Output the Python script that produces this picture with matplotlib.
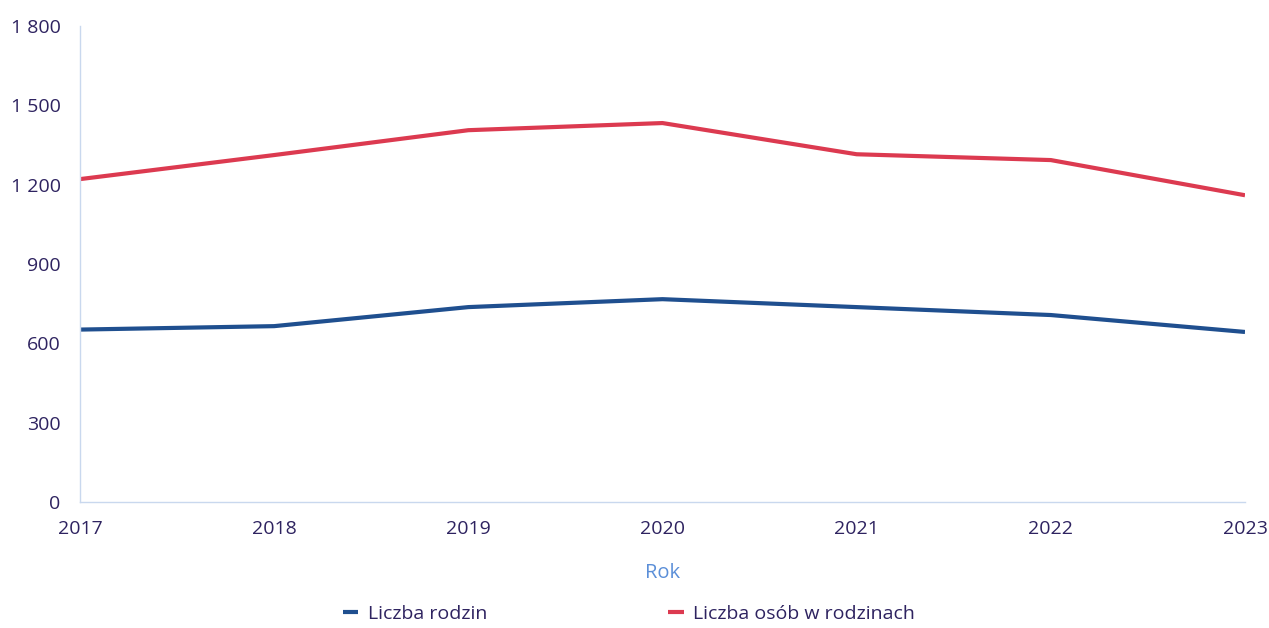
import matplotlib.pyplot as plt
from matplotlib.ticker import FuncFormatter

years = [2017, 2018, 2019, 2020, 2021, 2022, 2023]
rodziny = [652, 665, 737, 767, 737, 707, 643]
osoby = [1221, 1312, 1406, 1433, 1315, 1293, 1160]

plt.rcParams['font.family'] = ['Open Sans', 'DejaVu Sans']

fig = plt.figure(figsize=(12.69, 6.28), dpi=100)
ax = fig.add_axes([80 / 1269, 1 - 502 / 628, (1245 - 80) / 1269, (502 - 26) / 628])

blue = '#1f4f8f'
red = '#dc3a50'
ax.plot(years, rodziny, color=blue, lw=3, label='Liczba rodzin', solid_capstyle='butt')
ax.plot(years, osoby, color=red, lw=3, label='Liczba osób w rodzinach', solid_capstyle='butt')

ax.set_xlim(2017, 2023)
ax.set_ylim(0, 1800)
ax.set_yticks(range(0, 1801, 300))
ax.set_xticks(years)
ax.yaxis.set_major_formatter(FuncFormatter(lambda v, p: f'{int(v):,}'.replace(',', ' ')))

for s in ['top', 'right']:
    ax.spines[s].set_visible(False)
for s in ['left', 'bottom']:
    ax.spines[s].set_color('#c9d8ee')
    ax.spines[s].set_linewidth(1)
ax.tick_params(length=0, labelsize=14, colors='#2e2360')
ax.tick_params(axis='y', pad=14)
ax.tick_params(axis='x', pad=13)

ax.set_xlabel('Rok', color='#5b8fd8', fontsize=14.5, labelpad=18)

fig.legend(loc='center', bbox_to_anchor=(629 / 1269, 1 - 614 / 628), ncol=2, frameon=False,
           fontsize=14, handlelength=0.8, columnspacing=9.3, labelcolor='#2e2360',
           handletextpad=0.5)

fig.savefig('out.png', dpi=100)
